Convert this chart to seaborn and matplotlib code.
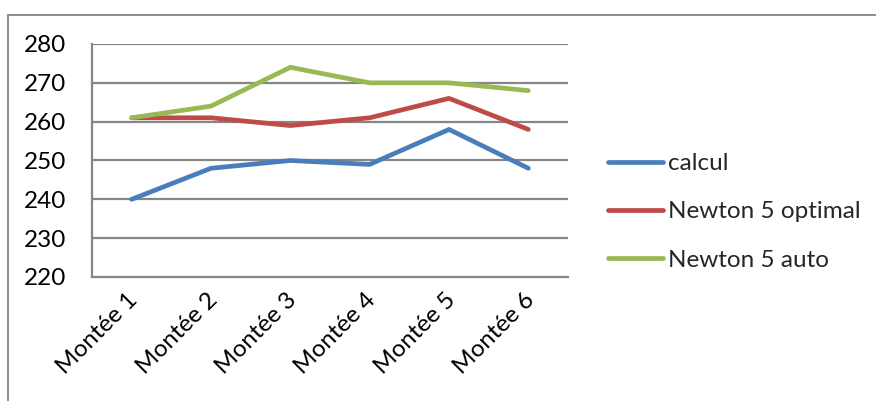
import matplotlib
matplotlib.use("Agg")
import matplotlib.pyplot as plt
import matplotlib.transforms as mtransforms
import seaborn as sns
import pandas as pd
from matplotlib.patches import Rectangle

categories = ["Montée 1", "Montée 2", "Montée 3", "Montée 4", "Montée 5", "Montée 6"]
calcul = [240, 248, 250, 249, 258, 248]
newton_optimal = [261, 261, 259, 261, 266, 258]
newton_auto = [261, 264, 274, 270, 270, 268]
series_names = ["calcul", "Newton 5 optimal", "Newton 5 auto"]
colors = ["#4A7EBB", "#BE4B48", "#98B954"]
y_ticks = [220, 230, 240, 250, 260, 270, 280]

sns.set_theme(style="white")
plt.rcParams['font.family'] = ['Lato', 'DejaVu Sans']
FS = 17.5

rows = []
for name, vals in zip(series_names, [calcul, newton_optimal, newton_auto]):
    for i, v in enumerate(vals):
        rows.append({"pos": i + 0.5, "value": v, "series": name})
df = pd.DataFrame(rows)

fig = plt.figure(figsize=(8.76, 4.01), dpi=100)
ax = fig.add_axes([92/876, 1 - 277/401, (568 - 92)/876, (277 - 44)/401])

grid_c = "#868686"
for t in y_ticks[1:]:
    ax.axhline(t, color=grid_c, lw=1.6, zorder=1)

sns.lineplot(data=df, x="pos", y="value", hue="series", palette=colors,
             hue_order=series_names, lw=3.4, ax=ax, legend=True, zorder=3,
             solid_capstyle="round", solid_joinstyle="round")

ax.set_xlim(0, 6)
ax.set_ylim(220, 280)
ax.set_yticks(y_ticks)
ax.set_yticklabels([str(t) for t in y_ticks], fontsize=FS, color="black")
ax.set_xticks([i + 0.5 for i in range(6)])
ax.set_xticklabels(categories, rotation=45, ha="right", va="center",
                   rotation_mode="anchor", fontsize=FS, color="black")
ax.tick_params(axis="x", length=0, pad=14)
offset = mtransforms.ScaledTranslation(3/100, 0, fig.dpi_scale_trans)
for lab in ax.get_xticklabels():
    lab.set_transform(lab.get_transform() + offset)
ax.set_xticks(range(7), minor=True)
ax.tick_params(axis="x", which="minor", length=6, width=1.3, color=grid_c, direction="out")
ax.tick_params(axis="y", length=6.5, width=1.3, color=grid_c, direction="out", pad=12)
ax.set_xlabel("")
ax.set_ylabel("")
for s in ["top", "right"]:
    ax.spines[s].set_visible(False)
for s in ["left", "bottom"]:
    ax.spines[s].set_color(grid_c)
    ax.spines[s].set_linewidth(1.6)

handles, labels = ax.get_legend_handles_labels()
for h in handles:
    h.set_linewidth(3.4)
    h.set_solid_capstyle("round")
leg = ax.legend(handles, labels, loc="center left", bbox_to_anchor=(1.084, 0.279),
                frameon=False, fontsize=FS, handlelength=2.26, handletextpad=0.2,
                labelspacing=1.12, borderaxespad=0, borderpad=0)

fig.patches.append(Rectangle((8/876, -0.1), 1.1, 1 - 15/401 + 0.1,
                             transform=fig.transFigure, fill=False,
                             edgecolor="#868686", lw=1.3))

fig.savefig("out.png", dpi=100)
